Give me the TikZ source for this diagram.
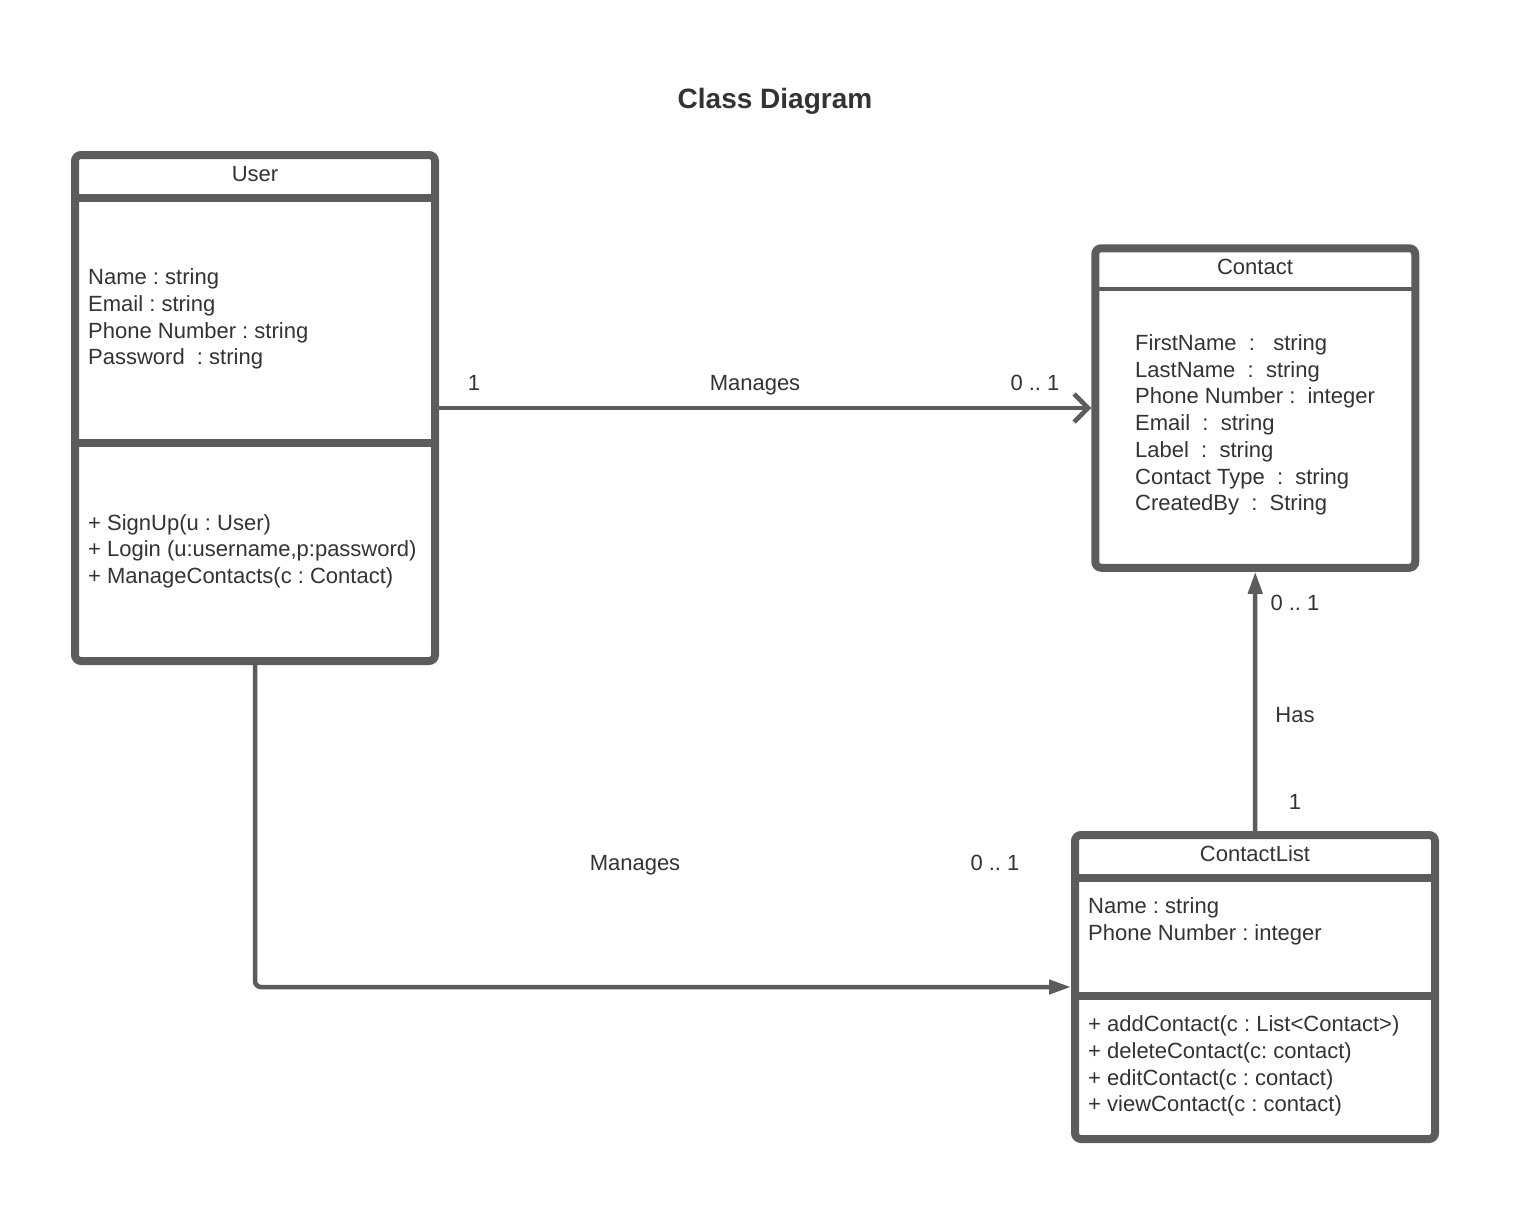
\documentclass[tikz,border=0pt]{standalone}
\usepackage{fontspec}
\setmainfont{Liberation Sans}
\frenchspacing
\usetikzlibrary{arrows.meta}
\definecolor{umlgray}{RGB}{92,92,92}
\definecolor{umltext}{RGB}{51,51,51}
\tikzset{
  classbox/.style={draw=umlgray,line width=8pt,rounded corners=6pt,fill=white},
  divider/.style={draw=umlgray,line width=8pt},
  thindivider/.style={draw=umlgray,line width=4pt},
  classname/.style={inner sep=0pt,text=umltext,font=\fontsize{22}{26.7}\selectfont},
  members/.style={anchor=west,align=left,inner sep=0pt,text=umltext,font=\fontsize{22}{26.7}\selectfont},
  mult/.style={inner sep=0pt,text=umltext,font=\fontsize{22}{26.7}\selectfont},
  relation/.style={draw=umlgray,line width=4.5pt},
}
\begin{document}
\begin{tikzpicture}[x=1pt,y=-1pt]
  \useasboundingbox (0,0) rectangle (1523,1219);
  \node[inner sep=0pt,text=umltext,font=\bfseries\fontsize{28}{34}\selectfont]
        (title) at (775,101) {Class Diagram};

  \node[classbox,minimum width=360pt,minimum height=506pt] (user) at (255,408) {};
  \draw[divider] (75,197.5) -- (435,197.5);
  \draw[divider] (75,442.5) -- (435,442.5);
  \node[classname] (user name) at (255,174) {User};
  \node[members] (user attrs) at (88,319) {Name : string\\Email : string\\
        Phone Number : string\\Password~~: string};
  \node[members] (user ops) at (88,551) {+ SignUp(u : User)\\
        + Login (u:username,p:password)\\+ ManageContacts(c : Contact)};

  \node[classbox,minimum width=320pt,minimum height=319.5pt] (contact) at (1255.25,408) {};
  \draw[thindivider] (1095,289) -- (1415.5,289);
  \node[classname] (contact name) at (1255,267) {Contact};
  \node[members] (contact attrs) at (1135,425) {FirstName~~:~~~string\\
        LastName~~:~~string\\Phone Number~:~~integer\\Email~~:~~string\\
        Label~~:~~string\\Contact Type~~:~~string\\CreatedBy~~:~~String};

  \node[classbox,minimum width=360pt,minimum height=304pt] (contactlist) at (1255,987) {};
  \draw[divider] (1075,877.5) -- (1435,877.5);
  \draw[divider] (1075,995.5) -- (1435,995.5);
  \node[classname] (contactlist name) at (1255,854) {ContactList};
  \node[members] (contactlist attrs) at (1088,921.5) {Name : string\\Phone Number : integer};
  \node[members] (contactlist ops) at (1088,1066) {+ addContact(c : List<Contact>)\\
        + deleteContact(c: contact)\\+ editContact(c : contact)\\+ viewContact(c : contact)};

  \draw[relation,-{Straight Barb[length=14pt,width=28pt]}] (user.east) -- (contact.west);
  \draw[relation,-{Triangle[length=22pt,width=14pt]}] (contactlist.north) -- (contact.south);
  \draw[relation,rounded corners=6pt,-{Triangle[length=22pt,width=14pt]}]
        (user.south) |- (contactlist.west);

  \node[mult] (manages src) at (474,383) {1};
  \node[mult] (manages label) at (755,385) {Manages};
  \node[mult] (manages dst) at (1035,383) {0 .. 1};
  \node[mult] (has dst) at (1295,603) {0 .. 1};
  \node[mult] (has label) at (1295,715) {Has};
  \node[mult] (has src) at (1295,802) {1};
  \node[mult] (list label) at (635,865) {Manages};
  \node[mult] (list dst) at (995,863) {0 .. 1};
\end{tikzpicture}
\end{document}
